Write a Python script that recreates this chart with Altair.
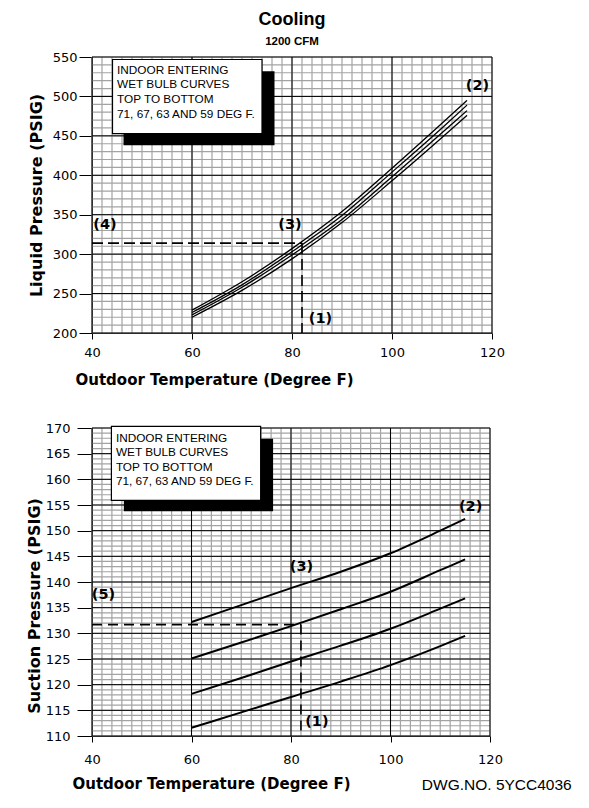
import altair as alt
import pandas as pd

# ---------------- data ----------------
outdoor_temp = [60, 70, 80, 90, 100, 110, 115]
wet_bulb = ["71", "67", "63", "59"]

liquid_71 = [229, 265, 307, 354, 409, 466, 495]
liquid_67 = [226, 261, 303, 349, 404, 460, 489]
liquid_63 = [223, 258, 299, 344, 398, 454, 482]
liquid_59 = [220, 254, 294, 340, 393, 448, 476]

suction_71 = [132.2, 135.5, 138.8, 142.0, 145.6, 150.0, 152.3]
suction_67 = [125.1, 128.2, 131.4, 134.7, 138.1, 142.3, 144.4]
suction_63 = [118.2, 121.3, 124.5, 127.6, 130.9, 134.8, 136.8]
suction_59 = [111.6, 114.6, 117.6, 120.6, 123.8, 127.5, 129.5]

x_ticks = [40, 60, 80, 100, 120]
liquid_ticks = [200, 250, 300, 350, 400, 450, 500, 550]
suction_ticks = [110, 115, 120, 125, 130, 135, 140, 145, 150, 155, 160, 165, 170]
x_minor = list(range(40, 121, 2))
liquid_minor = list(range(200, 551, 10))
suction_minor = list(range(110, 171, 1))

example_temp = 82
example_liquid = 314
example_suction = 131.7

box_text = "INDOOR ENTERING\nWET BULB CURVES\nTOP TO BOTTOM\n71, 67, 63 AND 59 DEG F."

top_labels = ["(4)", "(3)", "(1)", "(2)"]
top_label_x = [42.6, 79.6, 85.7, 117.1]
top_label_y = [337, 336.8, 218, 512.6]

bot_labels = ["(5)", "(3)", "(1)", "(2)"]
bot_label_x = [42.3, 82.1, 85.2, 116.1]
bot_label_y = [137.4, 142.9, 112.8, 154.6]

AXF = "DejaVu Sans"
BOXF = "Liberation Sans"
MINOR = "#a3a3a3"


def curves_frame(series):
    rows = []
    for wb, vals in zip(wet_bulb, series):
        for t, v in zip(outdoor_temp, vals):
            rows.append({"x": t, "y": v, "wb": wb})
    return pd.DataFrame(rows)


def panel(width, height, y_domain, y_ticks, y_minor, x_axis, y_axis, curves_df,
          curve_width, dash_df, dash_pattern, shadow_df, box_df, text_df,
          text_size, line_h, labels_df, extra=None):
    def X(f):
        return alt.X(f, type="quantitative",
                     scale=alt.Scale(domain=[40, 120], nice=False, zero=False),
                     axis=x_axis)

    def Y(f):
        return alt.Y(f, type="quantitative",
                     scale=alt.Scale(domain=y_domain, nice=False, zero=False),
                     axis=y_axis)

    layers = [
        alt.Chart(pd.DataFrame({"x": x_minor})).mark_rule(color=MINOR, strokeWidth=1.2).encode(x=X("x")),
        alt.Chart(pd.DataFrame({"y": y_minor})).mark_rule(color=MINOR, strokeWidth=1.2).encode(y=Y("y")),
        alt.Chart(pd.DataFrame({"x": x_ticks})).mark_rule(color="black", strokeWidth=1).encode(x=X("x")),
        alt.Chart(pd.DataFrame({"y": y_ticks})).mark_rule(color="black", strokeWidth=1).encode(y=Y("y")),
        alt.Chart(curves_df).mark_line(color="black", strokeWidth=curve_width, interpolate="monotone").encode(
            x=X("x"), y=Y("y"), detail="wb:N"),
        alt.Chart(dash_df).mark_rule(color="black", strokeWidth=1.6, strokeDash=dash_pattern).encode(
            x=X("x"), y=Y("y"), x2="x2", y2="y2"),
        alt.Chart(shadow_df).mark_rect(color="black").encode(x=X("x"), x2="x2", y=Y("y"), y2="y2"),
        alt.Chart(box_df).mark_rect(fill="white", stroke="black", strokeWidth=1.2).encode(
            x=X("x"), x2="x2", y=Y("y"), y2="y2"),
        alt.Chart(text_df).mark_text(align="left", baseline="alphabetic", lineBreak="\n", lineHeight=line_h,
                                     font=BOXF, fontSize=text_size, color="black").encode(
            x=X("x"), y=Y("y"), text="label:N"),
        alt.Chart(labels_df).mark_text(font=AXF, fontWeight="bold", fontSize=14.5, color="black").encode(
            x=X("x"), y=Y("y"), text="label:N"),
    ]
    if extra is not None:
        df, kw = extra
        layers.append(alt.Chart(df).mark_text(**kw).encode(x=X("x"), y=Y("y"), text="label:N"))
    return alt.layer(*layers).properties(width=width, height=height)


def x_axis(title_x, pad, title_y):
    return alt.Axis(values=x_ticks, grid=False, format="d", labelFlush=False,
                    title="Outdoor Temperature (Degree F)", titleFont=AXF, titleFontSize=15,
                    titleFontWeight="bold", titleColor="black", titleX=title_x, titleY=title_y,
                    titleBaseline="middle",
                    labelFont=AXF, labelFontSize=13, labelColor="black", labelPadding=pad,
                    tickSize=6, tickColor="black", domainColor="black")


def y_axis(values, title, title_x, tick, pad, title_y=None):
    kw = dict(values=values, grid=False, format="d", title=title, titleFont=AXF, titleFontSize=16,
              titleFontWeight="bold", titleColor="black", titleX=title_x, titleBaseline="middle",
              labelFont=AXF, labelFontSize=13, labelColor="black", labelPadding=pad,
              tickSize=tick, tickColor="black", domainColor="black")
    if title_y is not None:
        kw["titleY"] = title_y
    return alt.Axis(**kw)


top = panel(
    400, 276, [200, 550], liquid_ticks, liquid_minor,
    x_axis(122, 7, 46), y_axis(liquid_ticks, "Liquid Pressure (PSIG)", -56, 13, 2),
    curves_frame([liquid_71, liquid_67, liquid_63, liquid_59]), 1.3,
    pd.DataFrame({"x": [40, example_temp], "y": [example_liquid, example_liquid],
                  "x2": [example_temp, example_temp], "y2": [example_liquid, 200]}),
    [11, 5],
    pd.DataFrame({"x": [46.3], "x2": [76.5], "y": [438], "y2": [532]}),
    pd.DataFrame({"x": [44.1], "x2": [74], "y": [452.9], "y2": [546.8]}),
    pd.DataFrame({"x": [45], "y": [528.9], "label": [box_text]}), 11.8, 14.7,
    pd.DataFrame({"x": top_label_x, "y": top_label_y, "label": top_labels}),
).properties(title=alt.TitleParams(
    "Cooling", subtitle="1200 CFM", font=BOXF, fontSize=18, fontWeight="bold", color="black",
    subtitleFont=BOXF, subtitleFontSize=11.5, subtitleFontWeight="bold", subtitleColor="black",
    subtitlePadding=7, anchor="middle", frame="group", offset=4))

bottom = panel(
    398, 308, [110, 170], suction_ticks, suction_minor,
    x_axis(119, 11, 47), y_axis(suction_ticks, "Suction Pressure (PSIG)", -58, 15, 7, title_y=177.5),
    curves_frame([suction_71, suction_67, suction_63, suction_59]), 2,
    pd.DataFrame({"x": [40, example_temp], "y": [example_suction, example_suction],
                  "x2": [example_temp, example_temp], "y2": [example_suction, 110]}),
    [10, 6],
    pd.DataFrame({"x": [46.4], "x2": [76.4], "y": [153.8], "y2": [167.9]}),
    pd.DataFrame({"x": [43.9], "x2": [73.9], "y": [155.9], "y2": [170.3]}),
    pd.DataFrame({"x": [44.8], "y": [167.26], "label": [box_text]}), 11.8, 14.4,
    pd.DataFrame({"x": bot_label_x, "y": bot_label_y, "label": bot_labels}),
    extra=(pd.DataFrame({"x": [106.3], "y": [100.5], "label": ["DWG.NO.  5YCC4036"]}),
           dict(align="left", baseline="middle", font=BOXF, fontSize=15.5, color="black")),
)

chart = alt.vconcat(top, bottom, spacing=35).properties(
    padding={"left": 18, "top": 2, "right": 0, "bottom": 0}
).configure_view(stroke=None)

chart.save("out.html", embed_options={"renderer": "svg", "actions": False})
